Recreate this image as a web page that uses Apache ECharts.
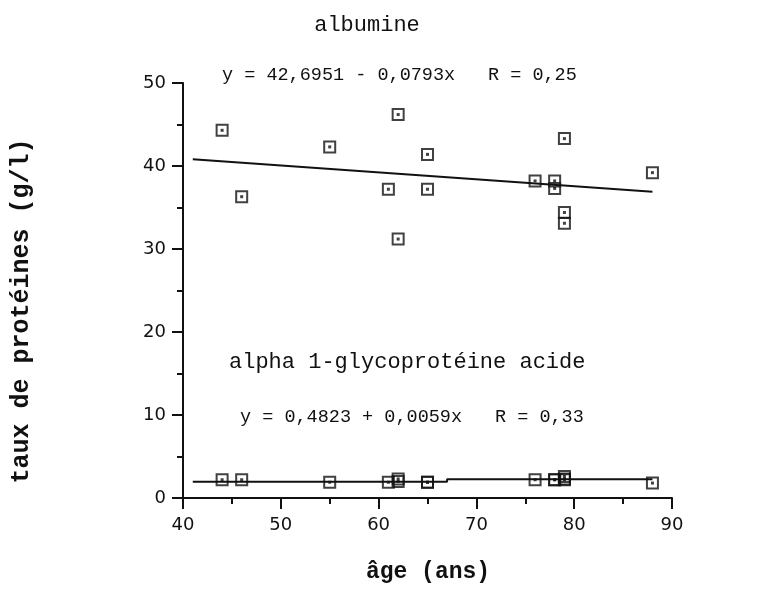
<!DOCTYPE html>
<html>
<head>
<meta charset="utf-8">
<script src="https://cdn.jsdelivr.net/npm/echarts@6/dist/echarts.min.js"></script>
<style>
html,body{margin:0;padding:0;background:#fff;}
#c{width:783px;height:603px;}
</style>
</head>
<body>
<div id="c"></div>
<script>
// ---- data ----
var ages = [44, 46, 55, 61, 62, 62, 65, 65, 76, 78, 78, 79, 79, 79, 88];
var albumine = [44.3, 36.3, 42.3, 37.2, 46.2, 31.2, 41.4, 37.2, 38.2, 38.2, 37.3, 43.3, 34.4, 33.1, 39.2];
var agp = [2.2, 2.2, 1.9, 1.9, 2.3, 2.0, 1.9, 1.9, 2.2, 2.2, 2.2, 2.6, 2.3, 2.2, 1.8];
var albLineX = [41, 88];
var albLineY = [40.8, 36.9];
var agpLineX = [41, 67, 88];
var agpLineY = [1.95, 2.25, 2.25];
var xTicks = [40, 50, 60, 70, 80, 90];
var yTicks = [0, 10, 20, 30, 40, 50];

var titleAlb = 'albumine';
var eqAlb = 'y = 42,6951 - 0,0793x';
var rAlb = 'R = 0,25';
var titleAgp = 'alpha 1-glycoprotéine acide';
var eqAgp = 'y = 0,4823 + 0,0059x';
var rAgp = 'R = 0,33';
var yTitle = 'taux de protéines (g/l)';
var xTitle = 'âge (ans)';

function pairs(xs, ys) { return xs.map(function (x, i) { return [x, ys[i]]; }); }

var mono = '"Liberation Mono", "DejaVu Sans Mono", monospace';
var tickFont = '"DejaVu Sans", sans-serif';

var chart = echarts.init(document.getElementById('c'));
var squareStyle = { color: 'rgba(0,0,0,0)', borderColor: '#111', borderWidth: 2 };

function txt(x, y, s, font, align) {
  return { type: 'text', x: x, y: y,
    style: { text: s, font: font, fill: '#111', align: align || 'left', verticalAlign: 'middle' } };
}

chart.setOption({
  animation: false,
  backgroundColor: '#fff',
  grid: { left: 183, right: 111, top: 83, bottom: 105, containLabel: false },
  xAxis: {
    type: 'value', min: xTicks[0], max: xTicks[xTicks.length - 1], interval: 10,
    axisLine: { lineStyle: { color: '#111', width: 2 } },
    axisTick: { length: 11, lineStyle: { color: '#111', width: 2 } },
    minorTick: { show: true, splitNumber: 2, length: 6, lineStyle: { color: '#111', width: 2 } },
    splitLine: { show: false },
    axisLabel: { color: '#111', fontFamily: tickFont, fontSize: 18, margin: 18 }
  },
  yAxis: {
    type: 'value', min: yTicks[0], max: yTicks[yTicks.length - 1], interval: 10,
    axisLine: { show: true, lineStyle: { color: '#111', width: 2 } },
    axisTick: { show: true, length: 11, lineStyle: { color: '#111', width: 2 } },
    minorTick: { show: true, splitNumber: 2, length: 6, lineStyle: { color: '#111', width: 2 } },
    splitLine: { show: false },
    axisLabel: { color: '#111', fontFamily: tickFont, fontSize: 18, margin: 17 }
  },
  series: [
    { type: 'line', data: pairs(albLineX, albLineY), symbol: 'none',
      lineStyle: { color: '#111', width: 2 }, z: 2 },
    { type: 'line', data: pairs(agpLineX, agpLineY), symbol: 'none', step: 'end',
      lineStyle: { color: '#111', width: 2 }, z: 2 },
    { type: 'scatter', data: pairs(ages, albumine), symbol: 'rect', symbolSize: 11,
      itemStyle: squareStyle, z: 3 },
    { type: 'scatter', data: pairs(ages, albumine), symbol: 'rect', symbolSize: 3,
      itemStyle: { color: '#111' }, z: 4 },
    { type: 'scatter', data: pairs(ages, agp), symbol: 'rect', symbolSize: 11,
      itemStyle: squareStyle, z: 3 },
    { type: 'scatter', data: pairs(ages, agp), symbol: 'rect', symbolSize: 3,
      itemStyle: { color: '#111' }, z: 4 }
  ],
  graphic: [
    txt(367, 25, titleAlb, '22px ' + mono, 'center'),
    txt(222, 75, eqAlb, '18.5px ' + mono),
    txt(488, 75, rAlb, '18.5px ' + mono),
    txt(229, 362, titleAgp, '22px ' + mono),
    txt(240, 417, eqAgp, '18.5px ' + mono),
    txt(495, 417, rAgp, '18.5px ' + mono),
    txt(428, 572, xTitle, 'bold 23px ' + mono, 'center'),
    { type: 'text', x: 22, y: 311, rotation: Math.PI / 2,
      style: { text: yTitle, font: 'bold 25px ' + mono, fill: '#111', align: 'center', verticalAlign: 'middle' } }
  ]
});
</script>
</body>
</html>
